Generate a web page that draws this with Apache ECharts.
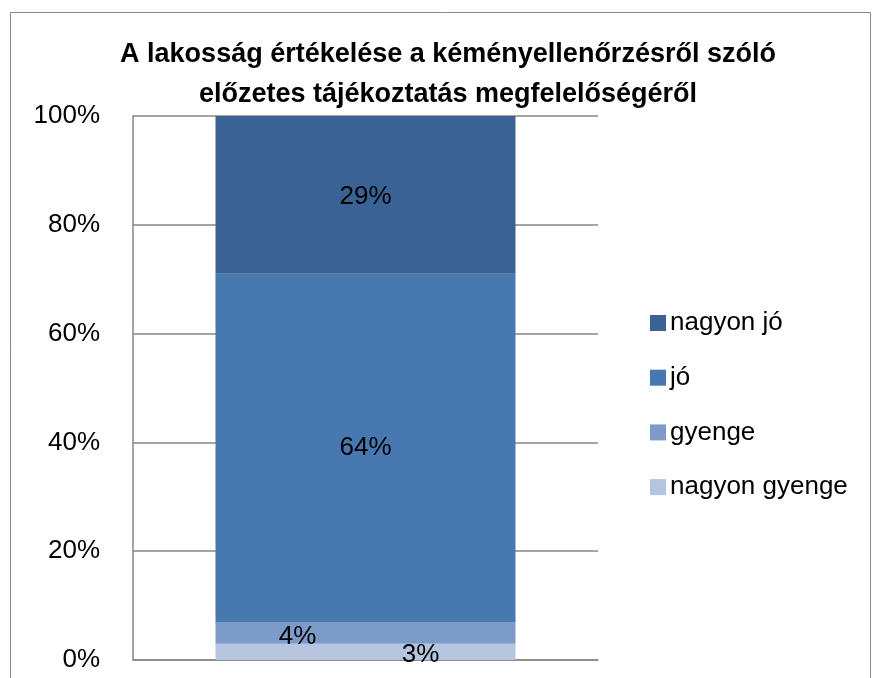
<!DOCTYPE html>
<html>
<head>
<meta charset="utf-8">
<script src="https://cdn.jsdelivr.net/npm/echarts@6/dist/echarts.min.js"></script>
<style>
  html, body { margin: 0; padding: 0; background: #fff; }
  #chart { width: 877px; height: 678px; }
</style>
</head>
<body>
<div id="chart"></div>
<script>
  // adatok
  var categories = ['']
  var seriesNames = ['nagyon gyenge', 'gyenge', 'jó', 'nagyon jó']
  var nagyonGyenge = [3]
  var gyenge = [4]
  var jo = [64]
  var nagyonJo = [29]
  var yTicks = [0, 20, 40, 60, 80, 100]

  var values = [nagyonGyenge, gyenge, jo, nagyonJo]
  var colors = ['#b6c5df', '#7d9bc8', '#4878b0', '#3b6295']
  var labelOffsets = [[55, 3], [-68, 4], [0, 0], [0, 2]]

  var chart = echarts.init(document.getElementById('chart'))

  var series = seriesNames.map(function (name, i) {
    return {
      name: name,
      type: 'bar',
      stack: 'total',
      barWidth: 300,
      itemStyle: { color: colors[i] },
      label: {
        show: true,
        position: 'inside',
        offset: labelOffsets[i],
        formatter: '{c}%',
        color: '#000',
        fontFamily: 'Liberation Sans',
        fontSize: 26
      },
      data: values[i]
    }
  })

  var option = {
    animation: false,
    title: {
      text: 'A lakosság értékelése a kéményellenőrzésről szóló\nelőzetes tájékoztatás megfelelőségéről',
      left: 443,
      textAlign: 'center',
      top: 30,
      textStyle: {
        fontFamily: 'Liberation Sans',
        fontWeight: 'bold',
        fontSize: 27,
        lineHeight: 40,
        color: '#000'
      }
    },
    graphic: [{
      type: 'rect',
      shape: { x: 10.5, y: 12.5, width: 860, height: 700 },
      style: { fill: 'none', stroke: '#888', lineWidth: 1 },
      silent: true
    }],
    legend: {
      data: ['nagyon jó', 'jó', 'gyenge', 'nagyon gyenge'],
      orient: 'vertical',
      left: 645,
      top: 303,
      itemWidth: 16,
      itemHeight: 16,
      itemGap: 24.7,
      icon: 'rect',
      textStyle: {
        fontFamily: 'Liberation Sans',
        fontSize: 26,
        lineHeight: 30,
        color: '#000',
        padding: [0, 0, 0, -1]
      }
    },
    grid: {
      left: 133,
      right: 279,
      top: 116,
      bottom: 18
    },
    xAxis: {
      type: 'category',
      data: categories,
      axisLine: { lineStyle: { color: '#868686', width: 1.5 } },
      axisTick: { show: false },
      axisLabel: { show: false }
    },
    yAxis: {
      type: 'value',
      min: yTicks[0],
      max: yTicks[yTicks.length - 1],
      interval: 20,
      axisLine: { show: true, lineStyle: { color: '#868686', width: 1.5 } },
      axisTick: { show: false },
      splitLine: { lineStyle: { color: '#868686', width: 1.5 } },
      axisLabel: {
        formatter: '{value}%',
        margin: 33,
        color: '#000',
        fontFamily: 'Liberation Sans',
        fontSize: 26
      }
    },
    series: series
  }

  chart.setOption(option)
</script>
</body>
</html>
